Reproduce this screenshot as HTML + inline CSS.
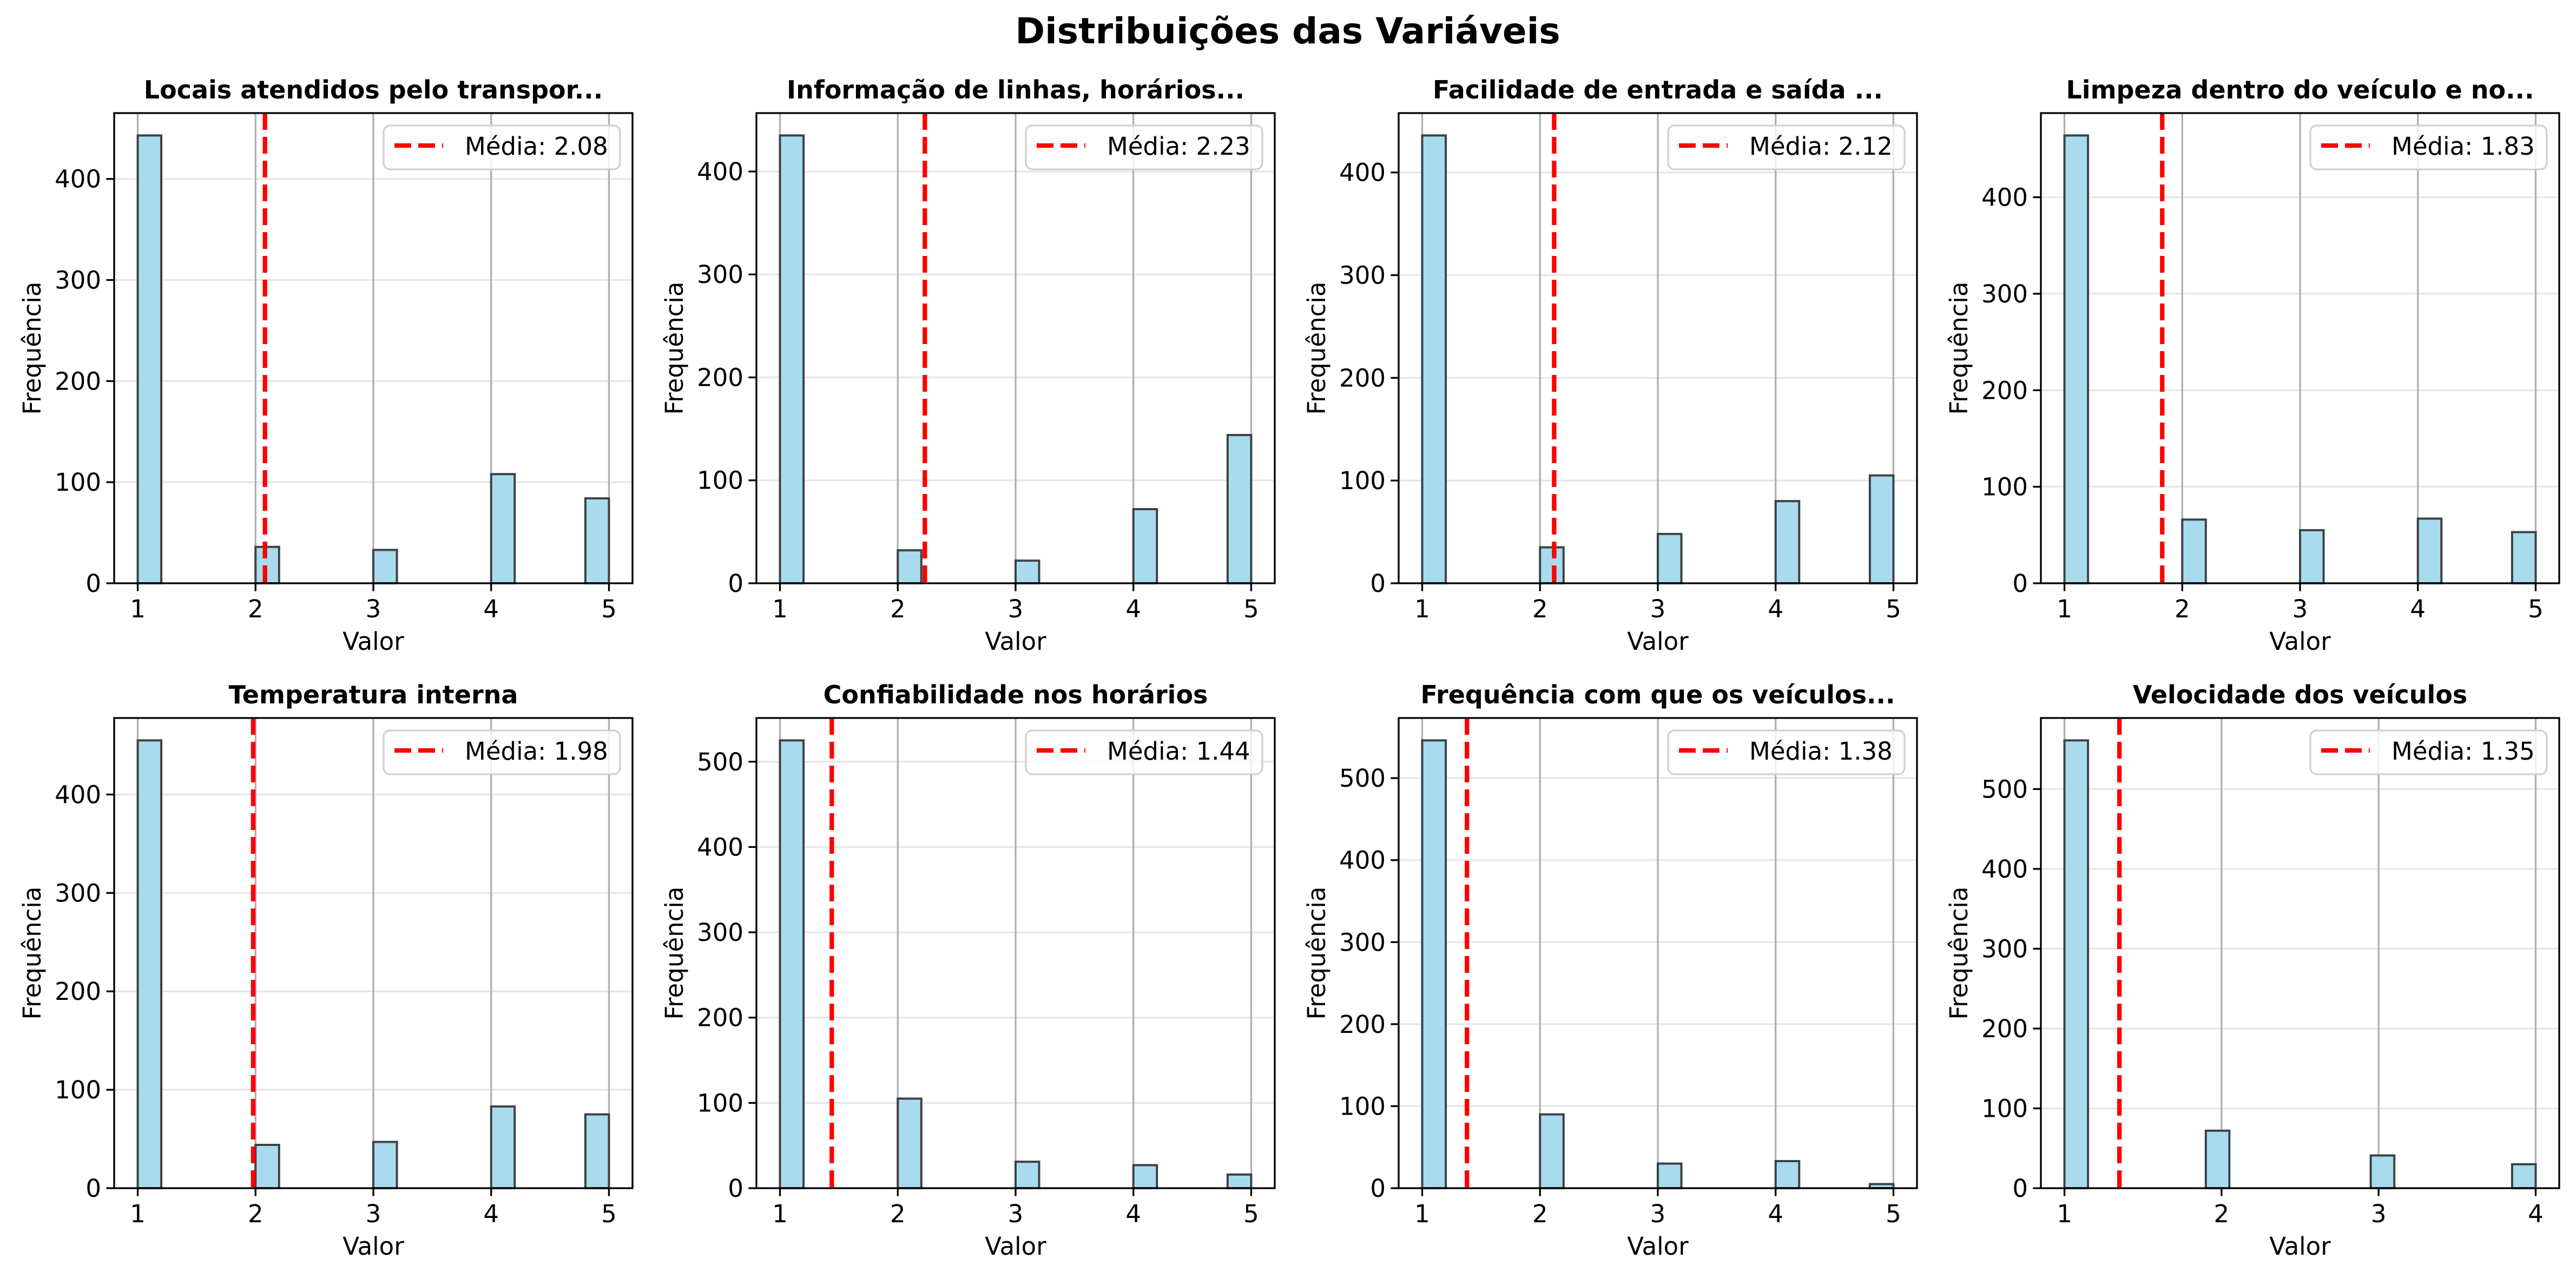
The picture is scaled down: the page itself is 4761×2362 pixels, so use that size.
<!DOCTYPE html>
<html><head><meta charset="utf-8"><style>
html,body{margin:0;padding:0;background:#fff;}
svg{display:block;font-family:"DejaVu Sans","Liberation Sans",sans-serif;}
</style></head><body>
<svg id="fig" width="4761" height="2362" viewBox="0 0 4761 2362" xmlns="http://www.w3.org/2000/svg">
<rect width="4761" height="2362" fill="#fff"/>
<text x="2380" y="80" text-anchor="middle" font-size="66" font-weight="bold">Distribuições das Variáveis</text>
</svg>
<script>
const titles = ["Locais atendidos pelo transpor...","Informação de linhas, horários...","Facilidade de entrada e saída ...","Limpeza dentro do veículo e no...","Temperatura interna","Confiabilidade nos horários","Frequência com que os veículos...","Velocidade dos veículos"];
const cats1 = [1,2,3,4,5];
const cats8 = [1,2,3,4];
const counts1 = [443,36,33,108,84];
const counts2 = [435,32,22,72,144];
const counts3 = [436,35,48,80,105];
const counts4 = [464,66,55,67,53];
const counts5 = [455,44,47,83,75];
const counts6 = [525,105,31,27,16];
const counts7 = [546,90,30,33,5];
const counts8 = [561,72,41,30];
const means = [2.08,2.23,2.12,1.83,1.98,1.44,1.38,1.35];
const allCounts = [counts1,counts2,counts3,counts4,counts5,counts6,counts7,counts8];
const allCats = [cats1,cats1,cats1,cats1,cats1,cats1,cats1,cats8];

const NS="http://www.w3.org/2000/svg";
const svg=document.getElementById('fig');
function mk(tag,attrs,parent){const e=document.createElementNS(NS,tag);for(const k in attrs)e.setAttribute(k,attrs[k]);(parent||svg).appendChild(e);return e;}

const colL=[211,1398,2585,3772], rowT=[209,1327], AW=958, AH=869;
for(let i=0;i<8;i++){
  const L=colL[i%4], T=rowT[Math.floor(i/4)], B=T+AH, R=L+AW;
  const cats=allCats[i], cnt=allCounts[i];
  const mn=Math.min(...cats), mx=Math.max(...cats), rng=mx-mn;
  const x0=mn-0.05*rng, x1=mx+0.05*rng, bw=rng/20;
  const ymax=Math.max(...cnt)*1.05;
  const X=v=>L+(v-x0)/(x1-x0)*AW, Y=v=>B-v/ymax*AH;
  const g=mk('g',{});
  
  
  const step=100;
  for(let t=0;t<=ymax;t+=step){
    const gl=mk('line',{x1:L,x2:R,y1:Y(t),y2:Y(t),stroke:'#e6e6e6','stroke-width':3.3},g);
    
    
  }
  cats.forEach(c=>{
    const gl=mk('line',{x1:X(c),x2:X(c),y1:T,y2:B,stroke:'#b0b0b0','stroke-width':3.3},g);
    
    
  });
  cats.forEach((c,j)=>{
    let k=Math.min(Math.floor((c-mn)/bw+1e-6),19);
    const a=mn+k*bw;
    const r=mk('rect',{x:X(a),y:Y(cnt[j]),width:X(a+bw)-X(a),height:B-Y(cnt[j]),fill:'#a9dbee',stroke:'#3c4246','stroke-width':4},g);
    
    
  });
  const ml=mk('line',{x1:X(means[i]),x2:X(means[i]),y1:T,y2:B,stroke:'#ff0000','stroke-width':8.3,'stroke-dasharray':'31 13'},g);
  
  
  const sp=mk('rect',{x:L,y:T,width:AW,height:AH,fill:'none',stroke:'#000','stroke-width':3.3},g);
  
  
  for(let t=0;t<=ymax;t+=step){
    mk('line',{x1:L-14.6,x2:L,y1:Y(t),y2:Y(t),stroke:'#000','stroke-width':3.3},g);
    const tl=mk('text',{x:L-24,y:Y(t)+16,'text-anchor':'end','font-size':45},g);
    tl.textContent=t;
    
    
  }
  cats.forEach(c=>{
    mk('line',{x1:X(c),x2:X(c),y1:B,y2:B+14.6,stroke:'#000','stroke-width':3.3},g);
    const tl=mk('text',{x:X(c),y:B+63,'text-anchor':'middle','font-size':45},g);
    tl.textContent=c;
    
    
  });
  const xl=mk('text',{x:L+AW/2,y:B+123,'text-anchor':'middle','font-size':45},g);
  xl.textContent='Valor';
  
  
  const yl=mk('text',{x:0,y:0,'text-anchor':'middle','font-size':45,transform:`translate(${L-136},${T+AH/2}) rotate(-90)`},g);
  yl.textContent='Frequência';
  
  
  const tt=mk('text',{x:L+AW/2,y:T-27,'text-anchor':'middle','font-size':46,'font-weight':'bold'},g);
  tt.textContent=titles[i];
  
  
  const lg=mk('g',{},g);
  
  
  mk('rect',{x:R-460,y:T+23,width:437,height:81,rx:12,fill:'#fff','fill-opacity':0.8,stroke:'#d0d0d0','stroke-width':3.3},lg);
  mk('line',{x1:R-440,x2:R-350,y1:T+60,y2:T+60,stroke:'#ff0000','stroke-width':8.3,'stroke-dasharray':'31 13'},lg);
  const lt=mk('text',{x:R-310,y:T+77,'font-size':45},lg);
  lt.textContent='Média: '+means[i].toFixed(2);
  
  
}
</script>
</body></html>
